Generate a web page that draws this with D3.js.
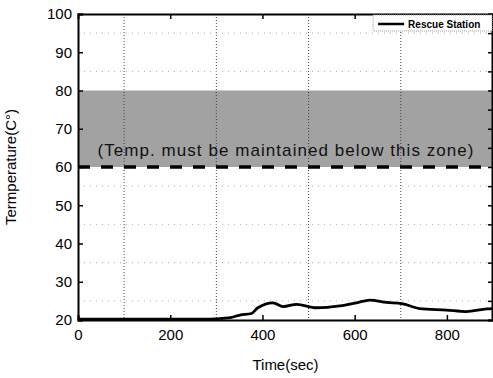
<!DOCTYPE html>
<html>
<head>
<meta charset="utf-8">
<script src="https://cdn.jsdelivr.net/npm/d3@7"></script>
<style>
  body { margin: 0; background: #fff; }
  svg text { font-family: "Liberation Sans", Arial, sans-serif; }
</style>
</head>
<body>
<div id="viz"></div>
<script>
// data
const timeSec = [0, 100, 200, 280, 300, 330, 351, 376, 390, 423, 445, 474, 517, 568, 604, 633, 669, 702, 741, 799, 842, 886, 900];
const tempC  = [20.2, 20.2, 20.2, 20.2, 20.3, 20.6, 21.3, 21.7, 23.2, 24.5, 23.5, 24.1, 23.2, 23.7, 24.5, 25.2, 24.6, 24.3, 23.0, 22.6, 22.2, 22.9, 23.0];
const xTicks = [0, 200, 400, 600, 800];
const xGrid = [100, 300, 500, 700];
const yTicks = [20, 30, 40, 50, 60, 70, 80, 90, 100];
const yGrid = [25, 35, 45, 55, 65, 75, 85, 95];
const zone = [60, 80];
const zoneLabel = "(Temp. must be maintained below this zone)";
const seriesName = "Rescue Station";

const margin = {top: 14, right: 0, bottom: 58, left: 78},
      width = 493 - margin.left - margin.right,
      height = 378 - margin.top - margin.bottom;

const svg = d3.select("#viz")
  .append("svg")
    .attr("width", 493)
    .attr("height", 378)
  .append("g")
    .attr("transform", "translate(" + margin.left + "," + margin.top + ")");

const x = d3.scaleLinear().domain([0, 900]).range([0, width]);
const y = d3.scaleLinear().domain([20, 100]).range([height, 0]);

// shaded zone
svg.append("rect")
  .attr("x", 0)
  .attr("y", y(zone[1]))
  .attr("width", width)
  .attr("height", y(zone[0]) - y(zone[1]))
  .attr("fill", "#a2a2a2");

// dotted grid
svg.selectAll(".vgrid").data(xGrid).enter().append("line")
  .attr("x1", d => x(d)).attr("x2", d => x(d))
  .attr("y1", 0).attr("y2", height)
  .attr("stroke", "#444").attr("stroke-width", 1)
  .attr("stroke-dasharray", "1,2");
svg.selectAll(".hgrid").data(yGrid).enter().append("line")
  .attr("x1", 0).attr("x2", width)
  .attr("y1", d => y(d)).attr("y2", d => y(d))
  .attr("stroke", "#aaa").attr("stroke-width", 1)
  .attr("stroke-dasharray", "1,5");

// zone text
svg.append("text")
  .attr("x", x(450))
  .attr("y", y(62.8))
  .attr("text-anchor", "middle")
  .attr("font-size", 17)
  .attr("textLength", 376)
  .attr("fill", "#111")
  .text(zoneLabel);

// threshold dashed line
svg.append("line")
  .attr("x1", 0).attr("x2", width)
  .attr("y1", y(zone[0])).attr("y2", y(zone[0]))
  .attr("stroke", "#000").attr("stroke-width", 3.5)
  .attr("stroke-dasharray", "12,11");

// the line
svg.append("path")
  .datum(d3.zip(timeSec, tempC))
  .attr("fill", "none")
  .attr("stroke", "#000")
  .attr("stroke-width", 2.8)
  .attr("d", d3.line().x(d => x(d[0])).y(d => y(d[1])).curve(d3.curveMonotoneX));

// axes
const xAxis = svg.append("g")
  .attr("transform", "translate(0," + height + ")")
  .call(d3.axisBottom(x).tickValues(xTicks).tickSize(-5).tickPadding(9));
const xTop = svg.append("g")
  .call(d3.axisTop(x).tickValues(xTicks.slice(1)).tickSize(-5).tickFormat(""));
const yAxis = svg.append("g")
  .call(d3.axisLeft(y).tickValues(yTicks).tickSize(-5).tickPadding(6));
const yRight = svg.append("g")
  .attr("transform", "translate(" + (width - 1) + ",0)")
  .call(d3.axisRight(y).tickValues(yTicks.concat(yGrid)).tickSize(-4).tickFormat(""));

[xAxis, xTop, yAxis, yRight].forEach(g => {
  g.selectAll("path").attr("stroke", "#000").attr("stroke-width", 2);
  g.selectAll("line").attr("stroke", "#000").attr("stroke-width", 1.5);
  g.selectAll("text").attr("font-size", 15).attr("fill", "#000");
});

// axis titles
svg.append("text")
  .attr("x", x(450))
  .attr("y", height + 50)
  .attr("text-anchor", "middle")
  .attr("font-size", 15)
  .text("Time(sec)");
svg.append("text")
  .attr("transform", "translate(" + (-62) + "," + (height / 2) + ") rotate(-90)")
  .attr("text-anchor", "middle")
  .attr("font-size", 15)
  .text("Termperature(C°)");

// legend
const lg = svg.append("g").attr("transform", "translate(" + (x(640)) + ",1)");
lg.append("rect")
  .attr("width", width - x(640) - 1).attr("height", 16)
  .attr("fill", "#fff").attr("stroke", "#999").attr("stroke-width", 1)
  .attr("stroke-dasharray", "1,1");
lg.append("line")
  .attr("x1", 5).attr("x2", 31).attr("y1", 9).attr("y2", 9)
  .attr("stroke", "#000").attr("stroke-width", 2.5);
lg.append("text")
  .attr("x", 35).attr("y", 13)
  .attr("font-size", 10).attr("font-weight", "bold")
  .text(seriesName);
</script>
</body>
</html>
